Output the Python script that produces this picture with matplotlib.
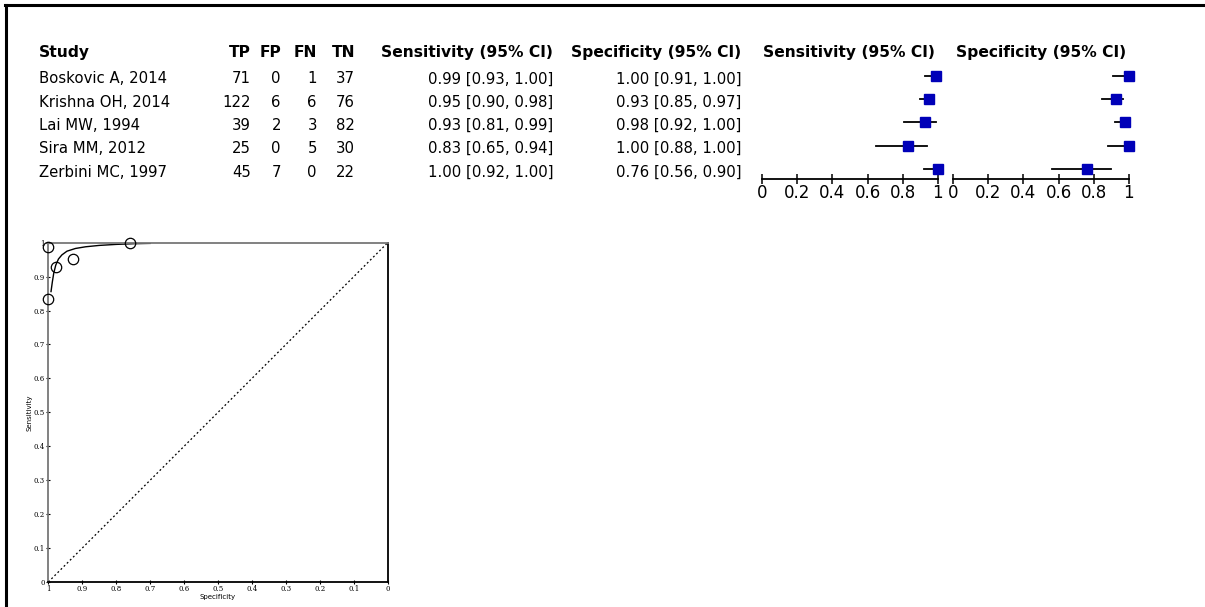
import matplotlib
matplotlib.use("Agg")
import matplotlib.pyplot as plt
from matplotlib.lines import Line2D

# Study data
studies = ["Boskovic A, 2014", "Krishna OH, 2014", "Lai MW, 1994", "Sira MM, 2012", "Zerbini MC, 1997"]
tp = [71, 122, 39, 25, 45]
fp = [0, 6, 2, 0, 7]
fn = [1, 6, 3, 5, 0]
tn = [37, 76, 82, 30, 22]
sens = [0.99, 0.95, 0.93, 0.83, 1.00]
sens_lo = [0.93, 0.90, 0.81, 0.65, 0.92]
sens_hi = [1.00, 0.98, 0.99, 0.94, 1.00]
spec = [1.00, 0.93, 0.98, 1.00, 0.76]
spec_lo = [0.91, 0.85, 0.92, 0.88, 0.56]
spec_hi = [1.00, 0.97, 1.00, 1.00, 0.90]

# SROC points (exact estimates) and fitted curve
sroc_sens = [71 / 72, 122 / 128, 39 / 42, 25 / 30, 45 / 45]
sroc_spec = [37 / 37, 76 / 82, 82 / 84, 30 / 30, 22 / 29]
curve_spec = [0.992, 0.988, 0.984, 0.978, 0.970, 0.960, 0.945, 0.920, 0.890, 0.850, 0.800, 0.750, 0.700]
curve_sens = [0.856, 0.885, 0.910, 0.934, 0.952, 0.964, 0.975, 0.983, 0.988, 0.992, 0.995, 0.997, 0.998]

W, H = 1205, 607
fig = plt.figure(figsize=(W / 100, H / 100), dpi=100)


def fx(px):
    return px / W


def fy(py):
    return 1 - py / H


# outer frame (top and left edges only)
fig.add_artist(Line2D([fx(5), 1], [fy(5), fy(5)], color="black", lw=2.2))
fig.add_artist(Line2D([fx(6), fx(6)], [fy(5), 0], color="black", lw=2.2))

# ---- table ----
hdr_base = 57.3
row_base = [83.3 + 23.33 * i for i in range(len(studies))]
hfs = 11.2
vfs = 10.7

fig.text(fx(39), fy(hdr_base), "Study", fontsize=hfs, weight="bold", va="baseline")
for name, x in [("TP", 251), ("FP", 281), ("FN", 317), ("TN", 355)]:
    fig.text(fx(x), fy(hdr_base), name, fontsize=hfs, weight="bold", va="baseline", ha="right")
fig.text(fx(553), fy(hdr_base), "Sensitivity (95% CI)", fontsize=hfs, weight="bold", va="baseline", ha="right")
fig.text(fx(741), fy(hdr_base), "Specificity (95% CI)", fontsize=hfs, weight="bold", va="baseline", ha="right")
fig.text(fx(763), fy(hdr_base), "Sensitivity (95% CI)", fontsize=hfs, weight="bold", va="baseline")
fig.text(fx(956), fy(hdr_base), "Specificity (95% CI)", fontsize=hfs, weight="bold", va="baseline")

for i, yb in enumerate(row_base):
    fig.text(fx(39), fy(yb), studies[i], fontsize=vfs, va="baseline")
    for vals, x in [(tp, 251), (fp, 281), (fn, 317), (tn, 355)]:
        fig.text(fx(x), fy(yb), str(vals[i]), fontsize=vfs, va="baseline", ha="right")
    fig.text(fx(553), fy(yb), "%.2f [%.2f, %.2f]" % (sens[i], sens_lo[i], sens_hi[i]),
             fontsize=vfs, va="baseline", ha="right")
    fig.text(fx(741), fy(yb), "%.2f [%.2f, %.2f]" % (spec[i], spec_lo[i], spec_hi[i]),
             fontsize=vfs, va="baseline", ha="right")

# ---- forest plots ----
top_px, bot_px = 60, 179
row_px0, row_step = 75.7, 23.33


def forest(left_px, est, lo, hi):
    ax = fig.add_axes([fx(left_px), fy(bot_px), 175.4 / W, (bot_px - top_px) / H])
    ypos = list(range(len(est)))
    for k in ypos:
        ax.plot([lo[k], hi[k]], [k, k], color="black", lw=1.3, clip_on=False)
    ax.plot(est, ypos, "s", color="#0000b8", ms=7.8, mec="#0000b8", clip_on=False, zorder=3)
    ax.set_xlim(0, 1)
    ax.set_ylim((bot_px - row_px0) / row_step, (top_px - row_px0) / row_step)
    for s in ["top", "left", "right"]:
        ax.spines[s].set_visible(False)
    ax.spines["bottom"].set_linewidth(1.3)
    ax.set_yticks([])
    ax.set_xticks([0, 0.2, 0.4, 0.6, 0.8, 1])
    ax.set_xticklabels(["0", "0.2", "0.4", "0.6", "0.8", "1"])
    ax.tick_params(axis="x", direction="inout", length=7, width=1.1, labelsize=12, pad=0)
    ax.patch.set_alpha(0)
    return ax


forest(762.3, sens, sens_lo, sens_hi)
forest(953.3, spec, spec_lo, spec_hi)

# ---- SROC plot ----
ax = fig.add_axes([fx(48.3), fy(582), 339.4 / W, 339.3 / H])
ax.plot([1, 0], [0, 1], color="black", lw=0.9, ls=(0, (1.5, 2)))
ax.plot(curve_spec, curve_sens, color="black", lw=1.0)
ax.plot(sroc_spec, sroc_sens, "o", mfc="none", mec="black", ms=7.5, mew=0.9, clip_on=False, zorder=3)
ax.set_xlim(1, 0)
ax.set_ylim(0, 1)
ticks = [i / 10 for i in range(11)]
labels = ["0"] + ["%.1f" % t for t in ticks[1:10]] + ["1"]
ax.set_xticks(ticks)
ax.set_xticklabels(labels)
ax.set_yticks(ticks)
ax.set_yticklabels(labels)
ax.tick_params(direction="inout", length=3, width=0.8, labelsize=5, pad=1)
for lab in ax.get_xticklabels() + ax.get_yticklabels():
    lab.set_family("DejaVu Serif")
ax.spines["left"].set_color("#777777")
ax.spines["top"].set_color("#777777")
for s in ax.spines.values():
    s.set_linewidth(1.3)
ax.set_xlabel("Specificity", fontsize=5, labelpad=0.5)
ax.set_ylabel("Sensitivity", fontsize=5, labelpad=1)

fig.savefig("out.png", dpi=100)
